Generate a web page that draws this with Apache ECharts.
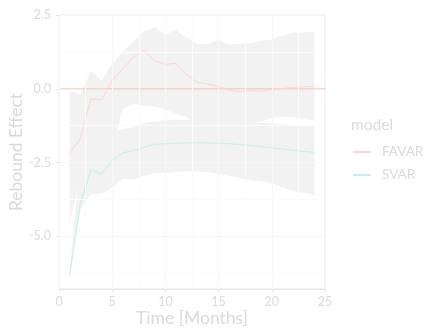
<!DOCTYPE html>
<html>
<head>
<meta charset="utf-8">
<script src="https://cdn.jsdelivr.net/npm/echarts@6/dist/echarts.min.js"></script>
<style>
  html, body { margin: 0; padding: 0; background: #ffffff; }
  #chart { width: 426px; height: 330px; }
</style>
</head>
<body>
<div id="chart"></div>
<script>
// Impulse responses of the rebound effect, months 1..24
const months = [1,2,3,4,5,6,7,8,9,10,11,12,13,14,15,16,17,18,19,20,21,22,23,24];

const favar      = [-2.20,-1.69,-0.34,-0.37,0.28,0.68,1.08,1.30,0.95,0.83,0.86,0.48,0.22,0.16,0.07,-0.05,-0.09,-0.06,-0.08,-0.03,0.01,0.05,0.07,0.08];
const favarUpper = [-0.03,-0.20,0.60,0.28,0.85,1.25,1.60,1.93,2.09,1.85,1.98,1.72,1.52,1.52,1.66,1.50,1.52,1.56,1.61,1.68,1.80,1.90,1.91,1.93];
const favarLower = [-4.52,-3.00,-1.90,-1.95,-1.94,-0.68,-0.51,-0.57,-0.60,-0.70,-0.85,-0.95,-1.25,-1.30,-1.35,-1.35,-1.30,-1.22,-1.10,-1.00,-0.95,-0.97,-1.02,-1.07];

const svar      = [-6.33,-3.88,-2.75,-2.88,-2.43,-2.17,-2.09,-1.98,-1.88,-1.86,-1.84,-1.83,-1.83,-1.83,-1.84,-1.86,-1.89,-1.92,-1.96,-2.00,-2.04,-2.08,-2.12,-2.15];
const svarUpper = [-6.25,-2.45,-1.60,-1.50,-1.50,-1.37,-1.30,-1.17,-1.10,-1.07,-1.05,-1.05,-1.06,-1.07,-1.08,-1.10,-1.12,-1.14,-1.15,-1.18,-1.20,-1.23,-1.26,-1.28];
const svarLower = [-6.40,-4.10,-3.56,-3.56,-3.34,-3.05,-3.08,-2.94,-2.86,-2.85,-2.82,-2.79,-2.80,-2.83,-2.88,-2.95,-3.03,-3.10,-3.14,-3.18,-3.33,-3.46,-3.52,-3.60];

const seriesNames = ['FAVAR', 'SVAR'];
const xTicks = [0, 5, 10, 15, 20, 25];
const yTicks = [-5, -2.5, 0, 2.5];
const xMinor = [2.5, 7.5, 12.5, 17.5, 22.5];
const yMinor = [-6.25, -3.75, -1.25, 1.25];
const zeroLevel = 0;

const FONT = 'Lato';
const TEXT = '#dadada';
const ZERO = '#ffbcbc';

function pairs(xs, ys) { return xs.map((x, i) => [x, ys[i]]); }

// Confidence band drawn as a polygon: upper edge forward, lower edge back
function bandSeries(upper, lower) {
  return {
    type: 'custom',
    silent: true,
    z: 1,
    clip: true,
    data: [[months[0], upper[0]]],
    renderItem: function (params, api) {
      const pts = [];
      for (let i = 0; i < months.length; i++) pts.push(api.coord([months[i], upper[i]]));
      for (let i = months.length - 1; i >= 0; i--) pts.push(api.coord([months[i], lower[i]]));
      return { type: 'polygon', shape: { points: pts }, style: { fill: '#f2f2f2' } };
    }
  };
}

// Faint panel grid (the zero level gets its own reference line)
const gridLines = [];
xTicks.forEach(v => gridLines.push({ xAxis: v, lineStyle: { color: '#f7f7f7', width: 1, type: 'solid' } }));
xMinor.forEach(v => gridLines.push({ xAxis: v, lineStyle: { color: '#fbfbfb', width: 1, type: 'solid' } }));
yTicks.filter(v => v !== zeroLevel).forEach(v => gridLines.push({ yAxis: v, lineStyle: { color: '#f7f7f7', width: 1, type: 'solid' } }));
yMinor.forEach(v => gridLines.push({ yAxis: v, lineStyle: { color: '#fbfbfb', width: 1, type: 'solid' } }));

const chart = echarts.init(document.getElementById('chart'), null, { renderer: 'canvas' });

chart.setOption({
  backgroundColor: '#ffffff',
  animation: false,
  textStyle: { fontFamily: FONT },
  grid: { left: 59, right: 101, top: 15, bottom: 41, outerBoundsMode: 'none', containLabel: false,
          show: true, borderColor: '#e6e6e6', borderWidth: 1, backgroundColor: 'transparent' },
  title: {
    text: 'model', left: 351, top: 117, padding: 0,
    textStyle: { fontFamily: FONT, fontSize: 15.5, fontWeight: 'normal', color: TEXT }
  },
  legend: {
    data: seriesNames,
    orient: 'vertical',
    left: 353, top: 145, padding: 0,
    itemWidth: 18, itemHeight: 2, itemGap: 9,
    icon: 'rect',
    textStyle: { fontFamily: FONT, fontSize: 13.5, color: TEXT, padding: [0, 0, 0, 6] }
  },
  xAxis: {
    type: 'value', min: 0, max: 25, interval: 5,
    name: 'Time [Months]', nameLocation: 'middle', nameGap: 20, nameMoveOverlap: false,
    nameTextStyle: { fontFamily: FONT, fontSize: 17.5, color: TEXT },
    axisLine: { show: true, onZero: false, lineStyle: { color: '#e6e6e6' } },
    axisTick: { show: true, length: 3, lineStyle: { color: '#e6e6e6' } },
    axisLabel: { margin: 6, fontFamily: FONT, fontSize: 12.5, color: TEXT },
    splitLine: { show: false }
  },
  yAxis: {
    type: 'value', min: -6.78, max: 2.5,
    name: 'Rebound Effect', nameLocation: 'middle', nameGap: 34, nameMoveOverlap: false,
    nameTextStyle: { fontFamily: FONT, fontSize: 17.5, color: TEXT },
    axisLine: { show: true, onZero: false, lineStyle: { color: '#e6e6e6' } },
    axisTick: { show: true, length: 3, customValues: yTicks, lineStyle: { color: '#e6e6e6' } },
    axisLabel: { margin: 8, fontFamily: FONT, fontSize: 12.5, color: TEXT, customValues: yTicks,
                 formatter: v => v.toFixed(1) },
    splitLine: { show: false }
  },
  series: [
    {
      type: 'line', name: '_grid', data: [], silent: true, z: 0, color: '#f7f7f7',
      markLine: { silent: true, symbol: 'none', label: { show: false }, data: gridLines }
    },
    bandSeries(favarUpper, favarLower),
    bandSeries(svarUpper, svarLower),
    // horizontal reference at zero, spanning the whole x range
    {
      type: 'line', name: '_zero', silent: true, z: 3, color: ZERO,
      data: [[xTicks[0], zeroLevel], [xTicks[xTicks.length - 1], zeroLevel]],
      showSymbol: false, symbol: 'none',
      lineStyle: { color: ZERO, width: 1, type: 'solid' }
    },
    {
      type: 'line', name: 'FAVAR', data: pairs(months, favar), z: 4,
      showSymbol: false, symbol: 'none', color: '#fdd6d0',
      lineStyle: { width: 1, color: '#fdd6d0' }
    },
    {
      type: 'line', name: 'SVAR', data: pairs(months, svar), z: 4,
      showSymbol: false, symbol: 'none', color: '#c4eef0',
      lineStyle: { width: 1, color: '#c4eef0' }
    }
  ]
});
</script>
</body>
</html>
